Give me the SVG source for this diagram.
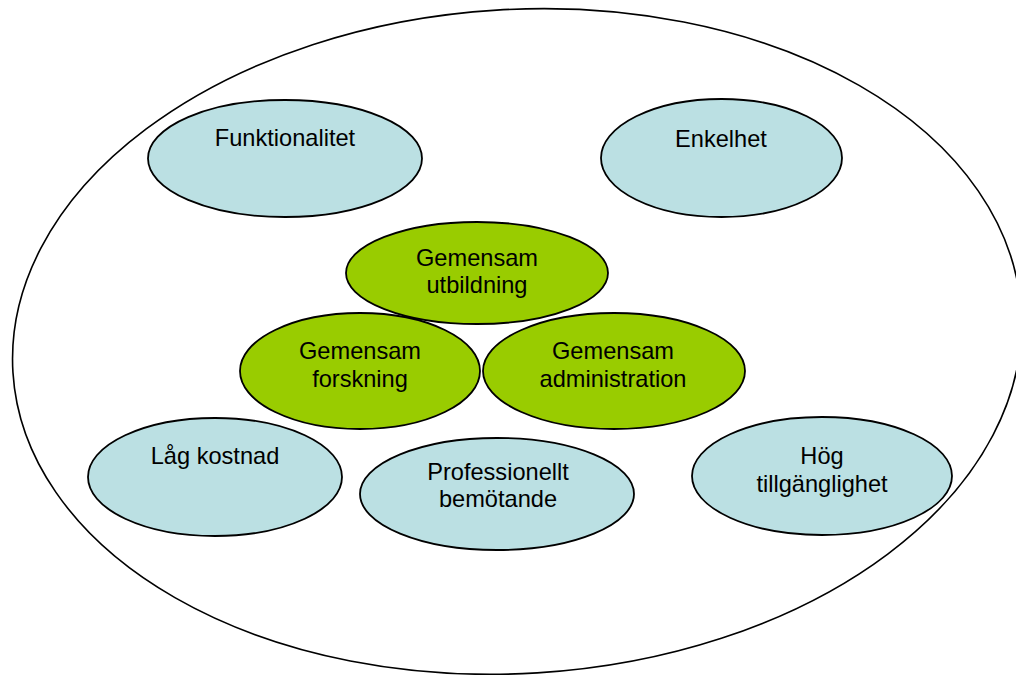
<svg xmlns="http://www.w3.org/2000/svg" width="1016" height="675" viewBox="0 0 1016 675">
<style>
  .outer { fill: #ffffff; stroke: #000000; stroke-width: 1.6; }
  .blue { fill: #BBE0E3; stroke: #000000; stroke-width: 1.8; }
  .green { fill: #99CC00; stroke: #000000; stroke-width: 1.8; }
  text { font-family: "Liberation Sans", Arial, sans-serif; font-size: 23.6px; fill: #000000; text-anchor: middle; }
</style>
<rect x="0" y="0" width="1016" height="675" fill="#ffffff"/>
<g id="outer-ellipse">
  <ellipse class="outer" cx="517" cy="341.5" rx="505" ry="332" transform="rotate(-3.5 517 341.5)"/>
</g>
<g id="connectors"></g>
<g id="funktionalitet">
  <ellipse class="blue" cx="285" cy="158.5" rx="137" ry="58.5"/>
  <text x="285" y="146">Funktionalitet</text>
</g>
<g id="enkelhet">
  <ellipse class="blue" cx="721.5" cy="158" rx="120.5" ry="59"/>
  <text x="721" y="147">Enkelhet</text>
</g>
<g id="gemensam-utbildning">
  <ellipse class="green" cx="477" cy="273" rx="131" ry="51"/>
  <text x="477" y="266">Gemensam</text>
  <text x="477" y="293">utbildning</text>
</g>
<g id="gemensam-forskning">
  <ellipse class="green" cx="360" cy="371" rx="120" ry="58"/>
  <text x="360" y="359">Gemensam</text>
  <text x="360" y="387">forskning</text>
</g>
<g id="gemensam-administration">
  <ellipse class="green" cx="614" cy="371" rx="131" ry="58"/>
  <text x="613" y="359">Gemensam</text>
  <text x="613" y="387">administration</text>
</g>
<g id="lag-kostnad">
  <ellipse class="blue" cx="215" cy="477" rx="127" ry="59"/>
  <text x="215" y="464">Låg kostnad</text>
</g>
<g id="professionellt-bemotande">
  <ellipse class="blue" cx="497" cy="494" rx="137" ry="56"/>
  <text x="498" y="480">Professionellt</text>
  <text x="498" y="507">bemötande</text>
</g>
<g id="hog-tillganglighet">
  <ellipse class="blue" cx="822" cy="476" rx="130" ry="59"/>
  <text x="822" y="464">Hög</text>
  <text x="822" y="492">tillgänglighet</text>
</g>
</svg>
